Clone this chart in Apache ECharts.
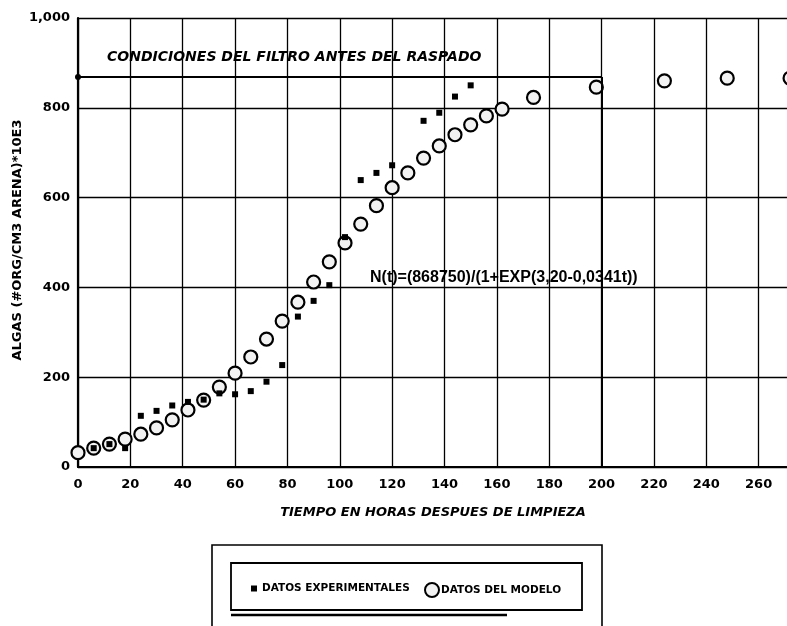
<!DOCTYPE html>
<html>
<head>
<meta charset="utf-8">
<script src="https://cdn.jsdelivr.net/npm/echarts@6/dist/echarts.min.js"></script>
<style>
html,body{margin:0;padding:0;background:#fff;}
#chart{width:787px;height:626px;}
</style>
</head>
<body>
<div id="chart"></div>
<script>
// Model data (DATOS DEL MODELO): time (h) and algae (#org/cm3 arena *10E3)
var modelTime  = [0, 6, 12, 18, 24, 30, 36, 42, 48, 54, 60, 66, 72, 78, 84, 90, 96, 102, 108, 114, 120, 126, 132, 138, 144, 150, 156, 162, 174, 198, 224, 248, 272];
var modelValue = [32, 42, 51, 62, 73, 87, 105, 127, 149, 178, 209, 245, 285, 325, 367, 412, 457, 499, 541, 582, 622, 655, 688, 715, 740, 762, 782, 797, 823, 846, 860, 866, 866];
// Experimental data (DATOS EXPERIMENTALES)
var expTime  = [6, 12, 18, 24, 30, 36, 42, 48, 54, 60, 66, 72, 78, 84, 90, 96, 102, 108, 114, 120, 132, 138, 144, 150];
var expValue = [42, 51, 42, 114, 125, 137, 145, 150, 164, 162, 169, 190, 227, 335, 370, 405, 512, 639, 655, 672, 771, 789, 825, 850];
// Reference condition before scraping
var filterLevel = 868.75;
var filterEndTime = 200;
var xTicks = {min: 0, max: 280, interval: 20};
var yTicks = {min: 0, max: 1000, interval: 200};

var modelData = modelTime.map(function (t, i) { return [t, modelValue[i]]; });
var expData = expTime.map(function (t, i) { return [t, expValue[i]]; });

var chart = echarts.init(document.getElementById('chart'), null, {renderer: 'canvas'});
var F = '"DejaVu Sans", sans-serif';
chart.setOption({
  animation: false,
  backgroundColor: '#fff',
  grid: {left: 78, top: 18, bottom: 159, width: 733, containLabel: false, outerBoundsMode: 'none'},
  xAxis: {
    type: 'value', min: xTicks.min, max: xTicks.max, interval: xTicks.interval,
    axisLine: {show: true, onZero: false, lineStyle: {color: '#000', width: 2.2}},
    axisTick: {show: false},
    axisLabel: {color: '#000', fontFamily: F, fontWeight: 'bold', fontSize: 13, margin: 11},
    splitLine: {show: true, lineStyle: {color: '#000', width: 1.3}}
  },
  yAxis: {
    type: 'value', min: yTicks.min, max: yTicks.max, interval: yTicks.interval,
    axisLine: {show: true, lineStyle: {color: '#000', width: 2.2}},
    axisTick: {show: false},
    axisLabel: {
      color: '#000', fontFamily: F, fontWeight: 'bold', fontSize: 13, margin: 8,
      formatter: function (v) { return v >= 1000 ? '1,000' : String(v); }
    },
    splitLine: {show: true, lineStyle: {color: '#000', width: 1.3}}
  },
  legend: [
    {
      data: [{name: 'DATOS EXPERIMENTALES', icon: 'rect'}],
      left: 246, top: 578, itemWidth: 6, itemHeight: 6, itemGap: 0,
      textStyle: {color: '#000', fontFamily: F, fontWeight: 'bold', fontSize: 10.5},
      selectedMode: false
    },
    {
      data: [{name: 'DATOS DEL MODELO', icon: 'circle'}],
      left: 419, top: 577, itemWidth: 14, itemHeight: 14, itemGap: 0,
      textStyle: {color: '#000', fontFamily: F, fontWeight: 'bold', fontSize: 10.5, padding: [0, 0, 0, -3]},
      selectedMode: false
    }
  ],
  series: [
    {
      name: 'DATOS DEL MODELO', type: 'scatter', data: modelData,
      symbol: 'circle', symbolSize: 13, z: 3,
      itemStyle: {color: '#f2f2f2', borderColor: '#000', borderWidth: 2.2, opacity: 1},
      markLine: {
        silent: true, symbol: ['circle', 'none'], symbolSize: 6, animation: false,
        label: {show: false},
        lineStyle: {color: '#000', type: 'solid', width: 2},
        data: [
          [{coord: [0, filterLevel]}, {coord: [filterEndTime, filterLevel]}],
          [{coord: [filterEndTime, filterLevel], symbol: 'none'}, {coord: [filterEndTime, 0]}]
        ]
      }
    },
    {
      name: 'DATOS EXPERIMENTALES', type: 'scatter', data: expData,
      symbol: 'rect', symbolSize: 6, z: 4,
      itemStyle: {color: '#000', opacity: 1}
    }
  ],
  graphic: [
    {type: 'text', x: 107, y: 57, z: 10,
     style: {text: 'CONDICIONES DEL FILTRO ANTES DEL RASPADO', fill: '#000',
             font: 'italic bold 14px "DejaVu Sans", sans-serif', align: 'left', verticalAlign: 'middle'}},
    {type: 'text', x: 370, y: 278, z: 10,
     style: {text: 'N(t)=(868750)/(1+EXP(3,20-0,0341t))', fill: '#000',
             font: 'bold 16px "Liberation Sans", Arial, sans-serif', align: 'left', verticalAlign: 'middle'}},
    {type: 'text', x: 433, y: 513, z: 10,
     style: {text: 'TIEMPO EN HORAS DESPUES DE LIMPIEZA', fill: '#000',
             font: 'italic bold 13px "DejaVu Sans", sans-serif', align: 'center', verticalAlign: 'middle'}},
    {type: 'text', x: 18, y: 240, rotation: Math.PI / 2, z: 10,
     style: {text: 'ALGAS (#ORG/CM3 ARENA)*10E3', fill: '#000',
             font: 'bold 13px "DejaVu Sans", sans-serif', align: 'center', verticalAlign: 'middle'}},
    {type: 'rect', z: 1, shape: {x: 212, y: 545, width: 390, height: 100},
     style: {fill: 'none', stroke: '#000', lineWidth: 1.6}},
    {type: 'rect', z: 1, shape: {x: 231, y: 563, width: 351, height: 47},
     style: {fill: 'none', stroke: '#000', lineWidth: 1.8}},
    {type: 'line', z: 1, shape: {x1: 231, y1: 615, x2: 507, y2: 615},
     style: {stroke: '#000', lineWidth: 2.5}}
  ]
});
</script>
</body>
</html>
